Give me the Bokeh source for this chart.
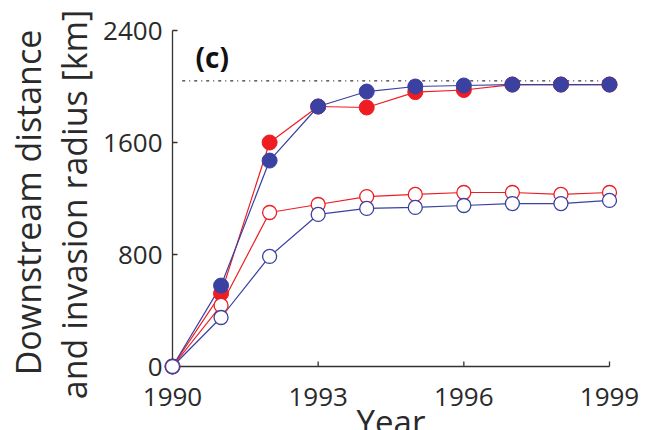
import math
from bokeh.plotting import figure
from bokeh.models import Range1d, Label
from bokeh.core.properties import value
from bokeh.embed import file_html
from bokeh.resources import INLINE

years = [1990, 1991, 1992, 1993, 1994, 1995, 1996, 1997, 1998, 1999]
red_filled = [0, 521, 1600, 1857, 1850, 1960, 1975, 2014, 2014, 2014]
blue_filled = [0, 578, 1471, 1857, 1964, 2000, 2007, 2014, 2014, 2014]
red_open = [0, 436, 1100, 1157, 1214, 1229, 1243, 1243, 1229, 1243]
blue_open = [0, 350, 786, 1086, 1129, 1136, 1150, 1164, 1164, 1186]
ref_level = 2040
ref_start = 1990.2
y_ticks = [0, 800, 1600, 2400]
x_ticks = [1990, 1993, 1996, 1999]
y_tick_labels = [str(t) for t in y_ticks]
x_tick_labels = [str(t) for t in x_ticks]
y_label_lines = ["Downstream distance", "and invasion radius [km]"]
x_label = "Year"
panel_label = "(c)"

RED = "#ee1d23"
BLUE = "#3a41a0"
AXC = "#333333"
TXT = "#2a2a2a"
FONT = "Open Sans"

# canvas geometry (pixels): the plotting frame covers the whole canvas
W, H = 646, 430
X0_PX, X1_PX = 172, 609     # pixel column of first / last x tick
Y0_PX, Y1_PX = 366, 30      # pixel row of first / last y tick
xs = (x_ticks[-1] - x_ticks[0]) / (X1_PX - X0_PX)   # data units per px
ys = (y_ticks[-1] - y_ticks[0]) / (Y0_PX - Y1_PX)
x_range = Range1d(x_ticks[0] - X0_PX * xs, x_ticks[-1] + (W - X1_PX) * xs)
y_range = Range1d(y_ticks[0] - (H - Y0_PX) * ys, y_ticks[-1] + Y1_PX * ys)

def px_x(px):
    return x_ticks[0] + (px - X0_PX) * xs

def px_y(py):
    return y_ticks[0] + (Y0_PX - py) * ys

p = figure(width=W, height=H, output_backend="svg", toolbar_location=None,
           x_range=x_range, y_range=y_range,
           x_axis_location=None, y_axis_location=None,
           min_border=0, min_border_left=0, min_border_right=0,
           min_border_top=0, min_border_bottom=0)
p.grid.visible = False
p.outline_line_color = None
p.background_fill_color = "white"
p.border_fill_color = "white"

# axis spines and inward ticks
x_first, x_last = x_ticks[0], x_ticks[-1]
y_first, y_last = y_ticks[0], y_ticks[-1]
p.line([x_first, x_first], [y_first, y_last], line_color=AXC, line_width=1.3)
p.line([x_first, x_last], [y_first, y_first], line_color=AXC, line_width=1.3)
tick_len = 5
p.segment(x0=[x_first] * len(y_ticks), y0=y_ticks,
          x1=[x_first + tick_len * xs] * len(y_ticks), y1=y_ticks,
          line_color=AXC, line_width=1.3)
p.segment(x0=x_ticks, y0=[y_first] * len(x_ticks),
          x1=x_ticks, y1=[y_first + tick_len * ys] * len(x_ticks),
          line_color=AXC, line_width=1.3)

# tick labels
p.text(x=x_ticks, y=[y_first] * len(x_ticks), text=x_tick_labels,
       text_font=value(FONT), text_font_size="26px", text_color=TXT,
       text_align="center", text_baseline="top", y_offset=21)
p.text(x=[x_first] * len(y_ticks), y=y_ticks, text=y_tick_labels,
       text_font=value(FONT), text_font_size="26px", text_color=TXT,
       text_align="right", text_baseline="middle", x_offset=-10)

# reference dash-dot line
p.line([ref_start, years[-1]], [ref_level, ref_level], line_color="black",
       line_width=1, line_dash="3 4 1 4")

# series
p.line(years, red_filled, line_color=RED, line_width=1.2)
p.line(years, blue_filled, line_color=BLUE, line_width=1.2)
p.line(years, red_open, line_color=RED, line_width=1.2)
p.line(years, blue_open, line_color=BLUE, line_width=1.2)

p.scatter(years, red_filled, size=15, marker="circle", fill_color=RED,
          line_color=RED, line_width=1)
p.scatter(years, blue_filled, size=15, marker="circle", fill_color=BLUE,
          line_color=BLUE, line_width=1)
p.scatter(years, red_open, size=14, marker="circle", fill_color="white",
          line_color=RED, line_width=1.3)
p.scatter(years, blue_open, size=14, marker="circle", fill_color="white",
          line_color=BLUE, line_width=1.3)

# texts
p.add_layout(Label(x=px_x(195), y=px_y(56), text=panel_label, text_font=FONT,
                   text_font_style="bold", text_font_size="28px",
                   text_baseline="middle", text_align="left", text_color="#111111"))
p.add_layout(Label(x=px_x(27), y=px_y(202), text=y_label_lines[0], angle=math.pi / 2,
                   text_font=FONT, text_font_size="34px", text_align="center",
                   text_baseline="alphabetic", text_color=TXT))
p.add_layout(Label(x=px_x(73), y=px_y(204), text=y_label_lines[1], angle=math.pi / 2,
                   text_font=FONT, text_font_size="34px", text_align="center",
                   text_baseline="alphabetic", text_color=TXT))
p.add_layout(Label(x=(x_first + x_last) / 2, y=px_y(421), text=x_label,
                   text_font=FONT, text_font_size="33px", text_align="center",
                   text_baseline="alphabetic", text_color=TXT))

open("out.html", "w").write(file_html(p, INLINE))
